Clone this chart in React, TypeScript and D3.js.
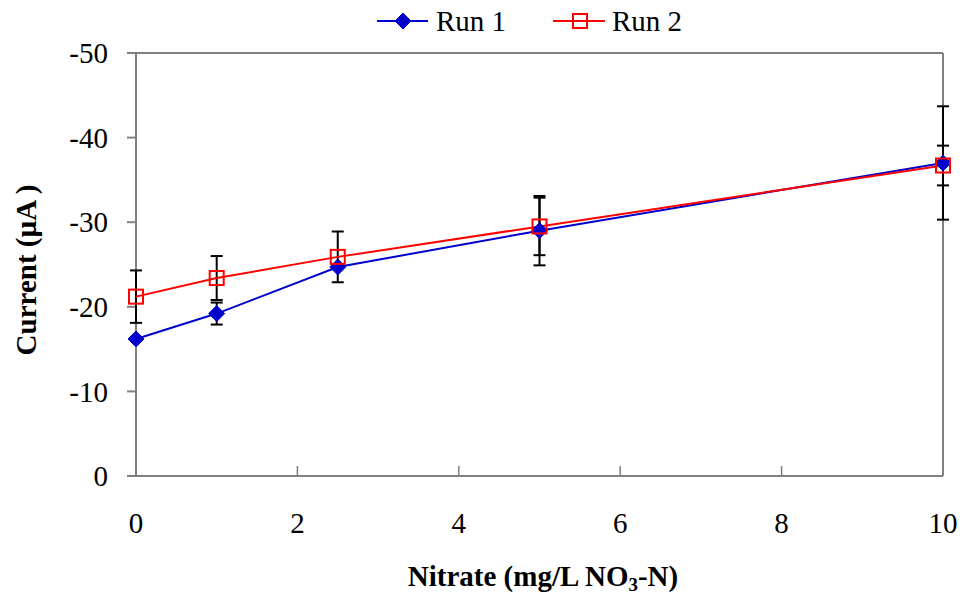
import React from "react";
import * as d3 from "d3";

const xValues = [0, 1, 2.5, 5, 10];
const run1 = [-16.2, -19.2, -24.7, -29.0, -37.0];
const run1Err = [0, 1.3, 0, 4.1, 6.7];
const run2 = [-21.2, -23.4, -25.9, -29.5, -36.7];
const run2Err = [3.1, 2.6, 3.0, 3.4, 2.35];
const xTicks = [0, 2, 4, 6, 8, 10];
const yTicks = [0, -10, -20, -30, -40, -50];
const seriesNames = ["Run 1", "Run 2"];

const W = 964;
const H = 596;
const left = 136;
const right = 943;
const top = 53;
const bottom = 476;
const BLUE = "#0000CC";
const RED = "#FF0000";
const AXIS = "#808080";
const FONT = "Liberation Serif, Times New Roman, DejaVu Serif, serif";

export default function App() {
  const x = d3.scaleLinear().domain([0, 10]).range([left, right]);
  const y = d3.scaleLinear().domain([0, -50]).range([bottom, top]);
  const line = d3
    .line<number>()
    .x((_, i) => x(xValues[i]))
    .y((d) => y(d));

  const errBars = (vals: number[], errs: number[], key: string) =>
    vals.map((v, i) =>
      errs[i] > 0 ? (
        <g key={key + i} stroke="#000" strokeWidth={2}>
          <line x1={x(xValues[i])} x2={x(xValues[i])} y1={y(v - errs[i])} y2={y(v + errs[i])} />
          <line x1={x(xValues[i]) - 6} x2={x(xValues[i]) + 6} y1={y(v - errs[i])} y2={y(v - errs[i])} />
          <line x1={x(xValues[i]) - 6} x2={x(xValues[i]) + 6} y1={y(v + errs[i])} y2={y(v + errs[i])} />
        </g>
      ) : null
    );

  const diamond = (cx: number, cy: number, key: string) => (
    <path key={key} d={`M${cx},${cy - 8}L${cx + 8},${cy}L${cx},${cy + 8}L${cx - 8},${cy}Z`} fill={BLUE} stroke={BLUE} strokeWidth={1} />
  );
  const square = (cx: number, cy: number, key: string) => (
    <rect key={key} x={cx - 7} y={cy - 7} width={14} height={14} fill="none" stroke={RED} strokeWidth={2} />
  );

  const txt = { fontFamily: FONT };

  return (
    <svg width={W} height={H} style={{ position: "absolute", left: 0, top: 0, background: "#fff", fontFamily: FONT }}>
      {/* frame */}
      <line x1={left} x2={right} y1={top} y2={top} stroke={AXIS} strokeWidth={2} />
      <line x1={right} x2={right} y1={top} y2={bottom} stroke={AXIS} strokeWidth={2} />
      <line x1={left} x2={left} y1={top} y2={bottom} stroke={AXIS} strokeWidth={2} />
      <line x1={left} x2={right} y1={bottom} y2={bottom} stroke={AXIS} strokeWidth={2} />
      {yTicks.map((t) => (
        <g key={"y" + t}>
          <line x1={left - 9} x2={left} y1={y(t)} y2={y(t)} stroke={AXIS} strokeWidth={2} />
          <text x={108} y={y(t)} dy="0.35em" textAnchor="end" fontSize={29} fill="#000" style={txt}>
            {t}
          </text>
        </g>
      ))}
      {xTicks.map((t) => (
        <g key={"x" + t}>
          <line x1={x(t)} x2={x(t)} y1={bottom - 10} y2={bottom} stroke={AXIS} strokeWidth={1.5} />
          <text x={x(t)} y={533} textAnchor="middle" fontSize={29} fill="#000" style={txt}>
            {t}
          </text>
        </g>
      ))}
      <text x={543} y={586} textAnchor="middle" fontSize={29} fontWeight="bold" fill="#000" style={txt}>
        Nitrate (mg/L NO
        <tspan fontSize={19} dy={5}>3</tspan>
        <tspan dy={-5}>-N)</tspan>
      </text>
      <text transform={`translate(36,270) rotate(-90)`} textAnchor="middle" fontSize={29} fontWeight="bold" fill="#000" style={txt}>
        Current (µA )
      </text>

      {errBars(run1, run1Err, "e1")}
      {errBars(run2, run2Err, "e2")}
      <path d={line(run1) || ""} fill="none" stroke={BLUE} strokeWidth={2} />
      <path d={line(run2) || ""} fill="none" stroke={RED} strokeWidth={2} />
      {run1.map((v, i) => diamond(x(xValues[i]), y(v), "d" + i))}
      {run2.map((v, i) => square(x(xValues[i]), y(v), "s" + i))}

      {/* legend */}
      <line x1={377} x2={428} y1={21} y2={21} stroke={BLUE} strokeWidth={2} />
      {diamond(403, 21, "ld")}
      <text x={436} y={31} fontSize={29} fill="#000" style={txt}>{seriesNames[0]}</text>
      <line x1={553} x2={605} y1={21} y2={21} stroke={RED} strokeWidth={2} />
      {square(580, 21, "ls")}
      <text x={612} y={31} fontSize={29} fill="#000" style={txt}>{seriesNames[1]}</text>
    </svg>
  );
}
